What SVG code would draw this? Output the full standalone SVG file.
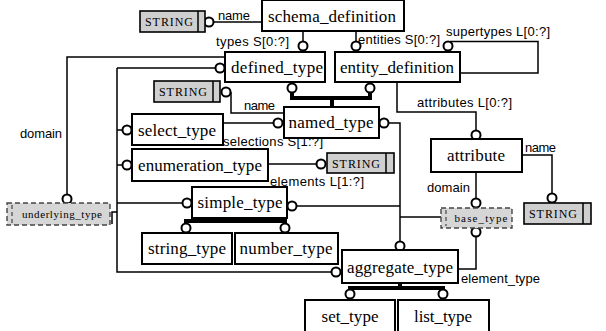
<svg xmlns="http://www.w3.org/2000/svg" width="606" height="331" viewBox="0 0 606 331">
<style>
.box{fill:#fff;stroke:#000;stroke-width:2}
.str{fill:#cfcfcf;stroke:#000;stroke-width:1.6}
.dash{fill:#d6d6d6;stroke:#444;stroke-width:1.4;stroke-dasharray:5 3}
.t{font-family:"Liberation Serif","Times New Roman",serif;font-size:17px;fill:#000;text-anchor:middle}
.s{font-family:"Liberation Serif","Times New Roman",serif;font-size:12px;fill:#000;text-anchor:middle}
.l{font-family:"Liberation Sans",Arial,sans-serif;font-size:13px;fill:#000}
.ln{fill:none;stroke:#000;stroke-width:1.5}
.thick{fill:none;stroke:#000;stroke-width:4}
.c{fill:#fff;stroke:#000;stroke-width:2}
</style>
<g id="connectors">
<path class="ln" d="M213,22H262"/>
<path class="ln" d="M303,31V42"/>
<path class="ln" d="M356,31V42"/>
<path class="ln" d="M450,41.5H538V73H460"/>
<path class="ln" d="M397,82V112H476V131"/>
<path class="ln" d="M522,155H552V194"/>
<path class="ln" d="M476,172V198"/>
<path class="ln" d="M476,236V269H458"/>
<path class="ln" d="M388,123H400V242"/>
<path class="ln" d="M296,206H400"/>
<path class="ln" d="M400,217H441"/>
<path class="ln" d="M117,68V272H332"/>
<path class="ln" d="M117,68H215"/>
<path class="ln" d="M117,130H123"/>
<path class="ln" d="M117,165H123"/>
<path class="ln" d="M117,203H182"/>
<path class="ln" d="M112,224V212H117"/>
<path class="ln" d="M225,57H67V195"/>
<path class="ln" d="M231,92V113H284"/>
<path class="ln" d="M223,123H274"/>
<path class="ln" d="M268,164H317"/>
<path class="thick" d="M186,224V221H285V224"/>
<path class="thick" d="M240,218V221"/>
<path class="thick" d="M292,92V98H370V92"/>
<path class="thick" d="M332,98V107"/>
<path class="thick" d="M350,291V288H443V291"/>
<path class="thick" d="M400,283V288"/>
<circle class="c" cx="209" cy="22" r="4.5"/>
<circle class="c" cx="303" cy="46" r="4.5"/>
<circle class="c" cx="356" cy="46" r="4.5"/>
<circle class="c" cx="448" cy="46" r="4.5"/>
<circle class="c" cx="476" cy="135" r="4.5"/>
<circle class="c" cx="552" cy="198" r="4.5"/>
<circle class="c" cx="476" cy="203" r="4.5"/>
<circle class="c" cx="476" cy="232" r="4.5"/>
<circle class="c" cx="384" cy="123" r="4.5"/>
<circle class="c" cx="292" cy="206" r="4.5"/>
<circle class="c" cx="400" cy="246" r="4.5"/>
<circle class="c" cx="220" cy="68" r="4.5"/>
<circle class="c" cx="127" cy="130" r="4.5"/>
<circle class="c" cx="127" cy="165" r="4.5"/>
<circle class="c" cx="187" cy="203" r="4.5"/>
<circle class="c" cx="336" cy="272" r="4.5"/>
<circle class="c" cx="67" cy="199" r="4.5"/>
<circle class="c" cx="226" cy="92" r="4.5"/>
<circle class="c" cx="278" cy="123" r="4.5"/>
<circle class="c" cx="321" cy="164" r="4.5"/>
<circle class="c" cx="186" cy="228" r="4.5"/>
<circle class="c" cx="285" cy="228" r="4.5"/>
<circle class="c" cx="292" cy="88" r="4.5"/>
<circle class="c" cx="370" cy="88" r="4.5"/>
<circle class="c" cx="350" cy="294" r="4.5"/>
<circle class="c" cx="443" cy="294" r="4.5"/>
<text class="l" x="218" y="20" textLength="32">name</text>
<text class="l" x="216" y="46" textLength="73">types S[0:?]</text>
<text class="l" x="358" y="44" textLength="82">entities S[0:?]</text>
<text class="l" x="446" y="36" textLength="104">supertypes L[0:?]</text>
<text class="l" x="417" y="107" textLength="95">attributes L[0:?]</text>
<text class="l" x="525" y="152" textLength="31">name</text>
<text class="l" x="427" y="192" textLength="43">domain</text>
<text class="l" x="461" y="283" textLength="79">element_type</text>
<text class="l" x="20" y="138" textLength="42">domain</text>
<text class="l" x="244" y="110" textLength="31">name</text>
<text class="l" x="223" y="146" textLength="100">selections S[1:?]</text>
<text class="l" x="270" y="186" textLength="94">elements L[1:?]</text>
</g>
<g id="schema_definition"><rect class="box" x="262" y="0" width="142" height="31"/><text class="t" x="332" y="22" textLength="128">schema_definition</text></g>
<g id="string1"><rect class="str" x="140" y="11" width="65" height="21"/><line class="ln" x1="198" y1="11" x2="198" y2="32"/><text class="s" x="169" y="26" textLength="48">STRING</text></g>
<g id="defined_type"><rect class="box" x="225" y="52" width="100" height="30"/><text class="t" x="277" y="73" textLength="92">defined_type</text></g>
<g id="entity_definition"><rect class="box" x="335" y="52" width="125" height="30"/><text class="t" x="397" y="73" textLength="114">entity_definition</text></g>
<g id="string2"><rect class="str" x="154" y="81" width="66" height="21"/><line class="ln" x1="213" y1="81" x2="213" y2="102"/><text class="s" x="183" y="96" textLength="48">STRING</text></g>
<g id="named_type"><rect class="box" x="284" y="107" width="95" height="31"/><text class="t" x="331" y="128" textLength="85">named_type</text></g>
<g id="select_type"><rect class="box" x="132" y="114" width="91" height="31"/><text class="t" x="177" y="136" textLength="78">select_type</text></g>
<g id="enumeration_type"><rect class="box" x="132" y="149" width="136" height="32"/><text class="t" x="200" y="171" textLength="124">enumeration_type</text></g>
<g id="string3"><rect class="str" x="327" y="153" width="67" height="20"/><line class="ln" x1="386" y1="153" x2="386" y2="173"/><text class="s" x="356" y="168" textLength="48">STRING</text></g>
<g id="attribute"><rect class="box" x="431" y="139" width="91" height="33"/><text class="t" x="476" y="161" textLength="58">attribute</text></g>
<g id="string4"><rect class="str" x="524" y="203" width="67" height="21"/><line class="ln" x1="583" y1="203" x2="583" y2="224"/><text class="s" x="553" y="218" textLength="48">STRING</text></g>
<g id="simple_type"><rect class="box" x="192" y="187" width="95" height="31"/><text class="t" x="240" y="208" textLength="85">simple_type</text></g>
<g id="underlying_type"><rect class="dash" x="7" y="203" width="103" height="22"/><line x1="12" y1="205" x2="12" y2="223" stroke="#444" stroke-width="1.2" stroke-dasharray="4 3"/><text class="s" x="62" y="218" style="font-size:11px" textLength="80">underlying_type</text></g>
<g id="base_type"><rect class="dash" x="441" y="208" width="71" height="20"/><line x1="446" y1="210" x2="446" y2="226" stroke="#444" stroke-width="1.2" stroke-dasharray="4 3"/><text class="s" x="481" y="222" style="font-size:11px" textLength="53">base_type</text></g>
<g id="string_type"><rect class="box" x="142" y="233" width="90" height="31"/><text class="t" x="187" y="254" textLength="78">string_type</text></g>
<g id="number_type"><rect class="box" x="235" y="233" width="103" height="31"/><text class="t" x="286" y="254" textLength="93">number_type</text></g>
<g id="aggregate_type"><rect class="box" x="342" y="250" width="116" height="33"/><text class="t" x="400" y="273" textLength="106">aggregate_type</text></g>
<g id="set_type"><rect class="box" x="305" y="300" width="90" height="40"/><text class="t" x="350" y="322" textLength="57">set_type</text></g>
<g id="list_type"><rect class="box" x="398" y="300" width="91" height="40"/><text class="t" x="443" y="322" textLength="58">list_type</text></g>
</svg>
